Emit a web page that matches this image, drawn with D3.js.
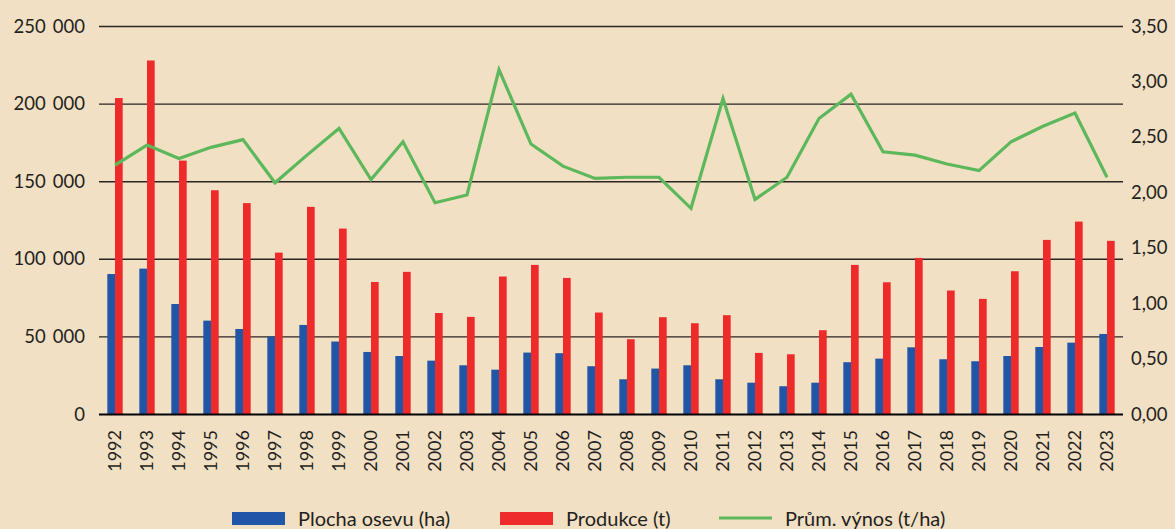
<!DOCTYPE html>
<html>
<head>
<meta charset="utf-8">
<script src="https://cdn.jsdelivr.net/npm/d3@7"></script>
<style>
  html, body { margin: 0; padding: 0; background: #f2e0c4; }
  svg { display: block; font-family: "Lato", "Open Sans", sans-serif; }
</style>
</head>
<body>
<svg id="chart" width="1175" height="529"></svg>
<script>
// data
const years = d3.range(1992, 2024).map(String);
const plocha = [90500, 94000, 71200, 60500, 55100, 50200, 57700, 47000, 40300, 37700,
  34700, 31700, 28900, 39900, 39500, 31100, 22700, 29600, 31700, 22700,
  20500, 18200, 20500, 33700, 36000, 43300, 35600, 34300, 37700, 43500,
  46300, 51900];
const produkce = [203900, 228100, 163600, 144500, 136200, 104300, 133800, 119800, 85400, 91900,
  65400, 62900, 88900, 96400, 88000, 65700, 48500, 62700, 58800, 64000,
  39700, 38800, 54300, 96400, 85200, 100900, 79900, 74500, 92300, 112500,
  124300, 111900];
const vynos = [2.25, 2.43, 2.31, 2.41, 2.48, 2.09, 2.34, 2.58, 2.12, 2.46,
  1.91, 1.98, 3.11, 2.44, 2.24, 2.13, 2.14, 2.14, 1.86, 2.85,
  1.94, 2.14, 2.67, 2.89, 2.37, 2.34, 2.26, 2.20, 2.46, 2.60,
  2.72, 2.14];
const leftTicks = [0, 50000, 100000, 150000, 200000, 250000];
const rightTicks = [0, 0.5, 1, 1.5, 2, 2.5, 3, 3.5];
const legendItems = ["Plocha osevu (ha)", "Produkce (t)", "Prům. výnos (t/ha)"];

const svg = d3.select("#chart");
const m = { left: 99, right: 1123, top: 26.5, bottom: 414.5 };

const x = d3.scaleBand().domain(years).range([m.left, m.right]).paddingInner(0).paddingOuter(0);
const y = d3.scaleLinear().domain([0, 250000]).range([m.bottom, m.top]);
const y2 = d3.scaleLinear().domain([0, 3.5]).range([m.bottom, m.top]);

const fmtLeft = d => d3.format(",")(d).replace(/,/g, "\u2009\u00a0");
const fmtRight = d => d3.format(".2f")(d).replace(".", ",");

// grid lines
svg.append("g")
  .selectAll("line")
  .data(leftTicks.filter(d => d > 0))
  .join("line")
  .attr("x1", m.left).attr("x2", m.right)
  .attr("y1", d => y(d)).attr("y2", d => y(d))
  .attr("stroke", "#2a2522").attr("stroke-width", 1.4);

// left axis labels
svg.append("g")
  .selectAll("text")
  .data(leftTicks)
  .join("text")
  .attr("x", 85).attr("y", d => y(d) + 6)
  .attr("text-anchor", "end")
  .attr("font-size", 18.5).attr("fill", "#231f20")
  .text(fmtLeft);

// right axis labels
svg.append("g")
  .selectAll("text")
  .data(rightTicks)
  .join("text")
  .attr("x", 1131).attr("y", d => y2(d) + 6)
  .attr("text-anchor", "start")
  .attr("font-size", 18.5).attr("fill", "#231f20")
  .text(fmtRight);

const bw = x.bandwidth() * 0.24;
const mid = d => x(d) + x.bandwidth() / 2;

// bars
svg.append("g")
  .selectAll("rect")
  .data(years)
  .join("rect")
  .attr("x", (d) => mid(d) - bw)
  .attr("y", (d, i) => y(plocha[i]))
  .attr("width", bw)
  .attr("height", (d, i) => m.bottom - y(plocha[i]))
  .attr("fill", "#2155a5");

svg.append("g")
  .selectAll("rect")
  .data(years)
  .join("rect")
  .attr("x", (d) => mid(d))
  .attr("y", (d, i) => y(produkce[i]))
  .attr("width", bw)
  .attr("height", (d, i) => m.bottom - y(produkce[i]))
  .attr("fill", "#ee2a2a");

// baseline
svg.append("line")
  .attr("x1", m.left).attr("x2", m.right)
  .attr("y1", m.bottom).attr("y2", m.bottom)
  .attr("stroke", "#000").attr("stroke-width", 2);

// yield line
const line = d3.line()
  .x((d, i) => mid(years[i]))
  .y(d => y2(d));

svg.append("path")
  .datum(vynos)
  .attr("d", line)
  .attr("fill", "none")
  .attr("stroke", "#5cb85a")
  .attr("stroke-width", 3.2)
  .attr("stroke-linejoin", "miter");

// year labels
svg.append("g")
  .selectAll("text")
  .data(years)
  .join("text")
  .attr("transform", d => `translate(${mid(d) + 6},430) rotate(-90)`)
  .attr("text-anchor", "end")
  .attr("font-size", 18).attr("fill", "#231f20")
  .text(d => d);

// legend
const lg = svg.append("g");
const lx = [232, 500, 719];
lg.append("rect").attr("x", lx[0]).attr("y", 512).attr("width", 53).attr("height", 13).attr("fill", "#2155a5");
lg.append("rect").attr("x", lx[1]).attr("y", 512).attr("width", 53).attr("height", 13).attr("fill", "#ee2a2a");
lg.append("line").attr("x1", lx[2]).attr("x2", lx[2] + 53).attr("y1", 518).attr("y2", 518)
  .attr("stroke", "#5cb85a").attr("stroke-width", 3.2);
lg.selectAll("text")
  .data(legendItems)
  .join("text")
  .attr("x", (d, i) => lx[i] + 66)
  .attr("y", 526)
  .attr("font-size", 20).attr("fill", "#231f20")
  .text(d => d);
</script>
</body>
</html>
